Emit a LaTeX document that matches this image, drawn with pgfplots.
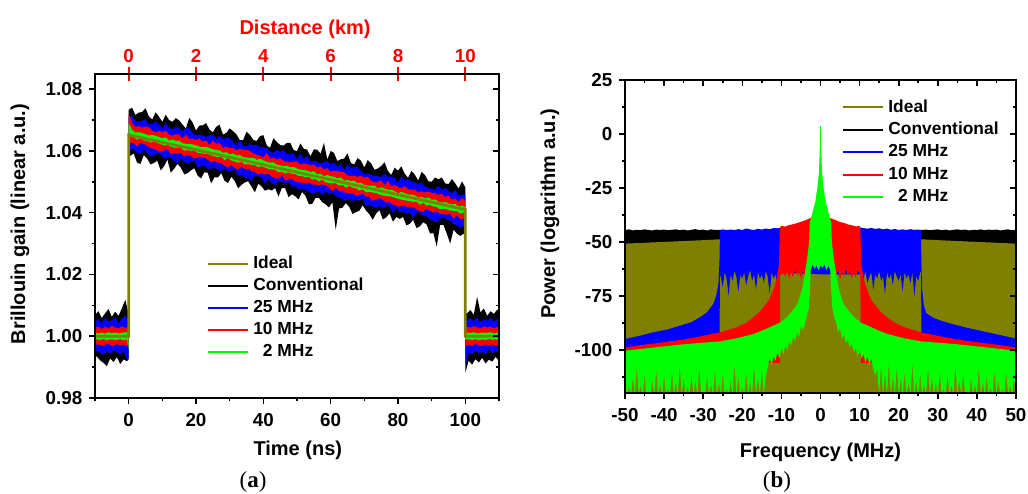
\documentclass[border=0pt]{standalone}
\usepackage{fontspec}
\setmainfont{Liberation Sans}
\newfontfamily\seriffont{Liberation Serif}
\usepackage{pgfplots}
\usepackage{pgfplotstable}
\pgfplotsset{compat=1.18}
\definecolor{olivec}{RGB}{128,128,0}
\definecolor{bluec}{RGB}{0,0,255}
\definecolor{redc}{RGB}{255,0,0}
\definecolor{greenc}{RGB}{0,255,0}

% envelope of each noisy trace (k = conventional, b = 25 MHz, r = 10 MHz, g = 2 MHz):
% upper edge left to right, then lower edge right to left
\pgfplotstableread{
x k b r g
-10 1.0068 1.0049 1.0027 1.0011
-9 1.0081 1.0055 1.0031 1.0009
-8 1.0059 1.0043 1.0024 1.0012
-7 1.0074 1.0058 1.0030 1.0008
-6 1.0088 1.0047 1.0026 1.0013
-5 1.0063 1.0052 1.0033 1.0010
-4 1.0079 1.0060 1.0028 1.0012
-3 1.0066 1.0041 1.0025 1.0009
-2 1.0091 1.0057 1.0032 1.0011
-1 1.0118 1.0066 1.0027 1.0013
0 1.0072 1.0050 1.0030 1.0011
0 1.0733 1.0710 1.0720 1.0690
1 1.0740 1.0713 1.0691 1.0668
2 1.0716 1.0697 1.0677 1.0659
3 1.0724 1.0694 1.0681 1.0661
4 1.0726 1.0698 1.0675 1.0658
5 1.0738 1.0702 1.0679 1.0654
6 1.0712 1.0685 1.0676 1.0650
7 1.0701 1.0688 1.0666 1.0652
8 1.0725 1.0695 1.0660 1.0649
9 1.0711 1.0686 1.0664 1.0645
10 1.0694 1.0672 1.0661 1.0641
11 1.0717 1.0691 1.0665 1.0644
12 1.0700 1.0675 1.0653 1.0633
13 1.0694 1.0670 1.0649 1.0637
14 1.0706 1.0677 1.0654 1.0632
15 1.0699 1.0673 1.0653 1.0633
16 1.0685 1.0663 1.0639 1.0625
17 1.0673 1.0674 1.0653 1.0623
18 1.0707 1.0673 1.0639 1.0623
19 1.0692 1.0659 1.0640 1.0621
20 1.0666 1.0650 1.0636 1.0618
21 1.0682 1.0653 1.0640 1.0614
22 1.0683 1.0650 1.0630 1.0612
23 1.0690 1.0645 1.0634 1.0613
24 1.0669 1.0650 1.0619 1.0609
25 1.0660 1.0653 1.0633 1.0605
26 1.0678 1.0638 1.0623 1.0603
27 1.0685 1.0649 1.0626 1.0601
28 1.0653 1.0638 1.0610 1.0594
29 1.0658 1.0642 1.0614 1.0596
30 1.0673 1.0643 1.0609 1.0588
31 1.0664 1.0629 1.0610 1.0592
32 1.0654 1.0617 1.0602 1.0585
33 1.0635 1.0636 1.0606 1.0587
34 1.0635 1.0617 1.0604 1.0580
35 1.0662 1.0614 1.0603 1.0578
36 1.0652 1.0622 1.0601 1.0577
37 1.0636 1.0618 1.0591 1.0578
38 1.0632 1.0620 1.0588 1.0571
39 1.0648 1.0611 1.0584 1.0574
40 1.0651 1.0612 1.0579 1.0569
41 1.0618 1.0608 1.0593 1.0565
42 1.0610 1.0597 1.0575 1.0562
43 1.0641 1.0594 1.0579 1.0563
44 1.0629 1.0605 1.0572 1.0555
45 1.0619 1.0596 1.0576 1.0553
46 1.0617 1.0603 1.0568 1.0550
47 1.0626 1.0589 1.0564 1.0552
48 1.0626 1.0590 1.0564 1.0547
49 1.0603 1.0593 1.0565 1.0548
50 1.0599 1.0572 1.0566 1.0543
51 1.0624 1.0591 1.0556 1.0539
52 1.0607 1.0573 1.0559 1.0538
53 1.0604 1.0584 1.0558 1.0536
54 1.0583 1.0565 1.0553 1.0531
55 1.0605 1.0568 1.0556 1.0534
56 1.0604 1.0565 1.0546 1.0524
57 1.0591 1.0560 1.0550 1.0526
58 1.0626 1.0563 1.0540 1.0518
59 1.0572 1.0567 1.0544 1.0522
60 1.0600 1.0558 1.0532 1.0518
61 1.0593 1.0562 1.0536 1.0516
62 1.0567 1.0548 1.0534 1.0511
63 1.0573 1.0559 1.0533 1.0514
64 1.0575 1.0537 1.0531 1.0504
65 1.0592 1.0556 1.0521 1.0506
66 1.0561 1.0545 1.0519 1.0502
67 1.0556 1.0548 1.0520 1.0503
68 1.0577 1.0548 1.0516 1.0495
69 1.0568 1.0534 1.0520 1.0497
70 1.0546 1.0525 1.0513 1.0490
71 1.0570 1.0528 1.0516 1.0488
72 1.0560 1.0522 1.0503 1.0487
73 1.0539 1.0519 1.0499 1.0488
74 1.0543 1.0520 1.0500 1.0478
75 1.0551 1.0515 1.0504 1.0482
76 1.0563 1.0525 1.0489 1.0478
77 1.0535 1.0516 1.0503 1.0474
78 1.0522 1.0517 1.0485 1.0474
79 1.0546 1.0513 1.0489 1.0470
80 1.0536 1.0497 1.0483 1.0463
81 1.0550 1.0516 1.0479 1.0467
82 1.0526 1.0505 1.0486 1.0463
83 1.0513 1.0508 1.0476 1.0459
84 1.0535 1.0502 1.0474 1.0458
85 1.0523 1.0498 1.0475 1.0456
86 1.0504 1.0493 1.0465 1.0449
87 1.0532 1.0497 1.0469 1.0451
88 1.0522 1.0485 1.0465 1.0446
89 1.0502 1.0480 1.0469 1.0449
90 1.0500 1.0477 1.0464 1.0442
91 1.0514 1.0474 1.0463 1.0443
92 1.0508 1.0488 1.0458 1.0435
93 1.0514 1.0474 1.0461 1.0433
94 1.0495 1.0480 1.0451 1.0434
95 1.0492 1.0471 1.0455 1.0430
96 1.0509 1.0463 1.0442 1.0427
97 1.0495 1.0474 1.0446 1.0428
98 1.0478 1.0455 1.0434 1.0420
99 1.0501 1.0458 1.0448 1.0422
100 1.0482 1.0460 1.0437 1.0418
100 1.0074 1.0052 1.0031 1.0012
100.5 1.0074 1.0052 1.0031 1.0012
101.5 1.0085 1.0058 1.0027 1.0010
102.5 1.0069 1.0049 1.0033 1.0013
103.5 1.0128 1.0061 1.0029 1.0009
104.5 1.0077 1.0045 1.0025 1.0011
105.5 1.0090 1.0055 1.0032 1.0012
106.5 1.0066 1.0050 1.0028 1.0010
107.5 1.0081 1.0059 1.0031 1.0013
108.5 1.0072 1.0048 1.0026 1.0009
109.5 1.0087 1.0056 1.0030 1.0011
110 1.0070 1.0050 1.0027 1.0010
110 0.9920 0.9947 0.9972 0.9988
109 0.9933 0.9951 0.9969 0.9990
108 0.9918 0.9945 0.9973 0.9989
107 0.9924 0.9956 0.9970 0.9991
106 0.9912 0.9942 0.9974 0.9988
105 0.9930 0.9950 0.9968 0.9990
104 0.9915 0.9944 0.9971 0.9987
103 0.9926 0.9953 0.9975 0.9991
102 0.9908 0.9941 0.9969 0.9988
101 0.9921 0.9947 0.9972 0.9990
100 0.9882 0.9905 0.9968 0.9989
100 1.0330 1.0355 1.0380 1.0400
99.5 1.0332 1.0356 1.0381 1.0401
98.5 1.0325 1.0351 1.0378 1.0397
97.5 1.0332 1.0359 1.0391 1.0405
96.5 1.0345 1.0364 1.0380 1.0406
95.5 1.0300 1.0374 1.0397 1.0407
94.5 1.0332 1.0377 1.0393 1.0411
93.5 1.0361 1.0384 1.0395 1.0413
92.5 1.0360 1.0380 1.0397 1.0411
91.5 1.0290 1.0370 1.0403 1.0419
90.5 1.0334 1.0374 1.0400 1.0420
89.5 1.0333 1.0377 1.0406 1.0425
88.5 1.0362 1.0388 1.0413 1.0423
87.5 1.0369 1.0390 1.0403 1.0432
86.5 1.0356 1.0399 1.0406 1.0426
85.5 1.0350 1.0401 1.0410 1.0436
84.5 1.0377 1.0383 1.0419 1.0435
83.5 1.0364 1.0401 1.0417 1.0438
82.5 1.0359 1.0398 1.0419 1.0439
81.5 1.0386 1.0403 1.0423 1.0441
80.5 1.0380 1.0400 1.0419 1.0444
79.5 1.0386 1.0416 1.0423 1.0447
78.5 1.0371 1.0398 1.0426 1.0451
77.5 1.0398 1.0419 1.0436 1.0453
76.5 1.0385 1.0422 1.0433 1.0454
75.5 1.0378 1.0412 1.0441 1.0456
74.5 1.0408 1.0423 1.0448 1.0459
73.5 1.0397 1.0415 1.0443 1.0464
72.5 1.0377 1.0419 1.0439 1.0465
71.5 1.0395 1.0426 1.0450 1.0468
70.5 1.0407 1.0421 1.0452 1.0466
69.5 1.0424 1.0444 1.0462 1.0476
68.5 1.0406 1.0440 1.0458 1.0472
67.5 1.0402 1.0441 1.0455 1.0480
66.5 1.0396 1.0438 1.0464 1.0481
65.5 1.0419 1.0443 1.0462 1.0487
64.5 1.0431 1.0440 1.0464 1.0481
63.5 1.0416 1.0444 1.0473 1.0490
62.5 1.0414 1.0449 1.0470 1.0488
61.5 1.0345 1.0455 1.0481 1.0496
60.5 1.0434 1.0464 1.0470 1.0495
59.5 1.0417 1.0460 1.0481 1.0496
58.5 1.0427 1.0469 1.0488 1.0499
57.5 1.0434 1.0457 1.0492 1.0507
56.5 1.0448 1.0468 1.0488 1.0501
55.5 1.0448 1.0466 1.0490 1.0510
54.5 1.0428 1.0461 1.0492 1.0508
53.5 1.0428 1.0469 1.0498 1.0516
52.5 1.0455 1.0474 1.0495 1.0515
51.5 1.0467 1.0478 1.0497 1.0518
50.5 1.0443 1.0475 1.0499 1.0519
49.5 1.0453 1.0486 1.0500 1.0525
48.5 1.0460 1.0483 1.0509 1.0526
47.5 1.0450 1.0499 1.0508 1.0531
46.5 1.0479 1.0495 1.0504 1.0527
45.5 1.0480 1.0499 1.0521 1.0533
44.5 1.0452 1.0502 1.0510 1.0531
43.5 1.0480 1.0490 1.0513 1.0539
42.5 1.0472 1.0494 1.0516 1.0540
41.5 1.0476 1.0511 1.0526 1.0542
40.5 1.0471 1.0493 1.0523 1.0546
39.5 1.0485 1.0514 1.0528 1.0550
38.5 1.0494 1.0517 1.0524 1.0548
37.5 1.0466 1.0521 1.0532 1.0554
36.5 1.0484 1.0503 1.0534 1.0555
35.5 1.0502 1.0510 1.0543 1.0558
34.5 1.0498 1.0514 1.0540 1.0556
33.5 1.0490 1.0523 1.0551 1.0566
32.5 1.0479 1.0520 1.0540 1.0562
31.5 1.0503 1.0539 1.0545 1.0566
30.5 1.0516 1.0535 1.0554 1.0569
29.5 1.0496 1.0535 1.0548 1.0577
28.5 1.0503 1.0544 1.0551 1.0571
27.5 1.0528 1.0534 1.0560 1.0581
26.5 1.0514 1.0539 1.0562 1.0580
25.5 1.0515 1.0546 1.0566 1.0582
24.5 1.0495 1.0543 1.0563 1.0586
23.5 1.0529 1.0542 1.0571 1.0590
22.5 1.0531 1.0553 1.0578 1.0591
21.5 1.0511 1.0551 1.0582 1.0593
20.5 1.0520 1.0546 1.0578 1.0594
19.5 1.0544 1.0569 1.0575 1.0601
18.5 1.0537 1.0565 1.0584 1.0600
17.5 1.0528 1.0559 1.0586 1.0603
16.5 1.0524 1.0564 1.0583 1.0601
15.5 1.0546 1.0576 1.0593 1.0610
14.5 1.0558 1.0558 1.0590 1.0611
13.5 1.0542 1.0567 1.0593 1.0611
12.5 1.0530 1.0578 1.0589 1.0614
11.5 1.0572 1.0578 1.0607 1.0620
10.5 1.0550 1.0575 1.0603 1.0618
9.5 1.0537 1.0589 1.0598 1.0622
8.5 1.0568 1.0592 1.0601 1.0626
7.5 1.0561 1.0586 1.0607 1.0631
6.5 1.0556 1.0581 1.0609 1.0627
5.5 1.0575 1.0595 1.0616 1.0633
4.5 1.0586 1.0604 1.0623 1.0634
3.5 1.0558 1.0590 1.0626 1.0642
2.5 1.0562 1.0594 1.0615 1.0636
1.5 1.0592 1.0606 1.0625 1.0644
0.5 1.0584 1.0603 1.0627 1.0645
0 1.0590 1.0605 1.0630 1.0648
0 0.9925 0.9930 0.9965 0.9955
-0.5 0.9919 0.9924 0.9969 0.9990
-1.5 0.9925 0.9950 0.9973 0.9987
-2.5 0.9910 0.9942 0.9970 0.9991
-3.5 0.9932 0.9948 0.9975 0.9988
-4.5 0.9917 0.9955 0.9968 0.9989
-5.5 0.9928 0.9943 0.9972 0.9990
-6.5 0.9903 0.9951 0.9976 0.9987
-7.5 0.9914 0.9940 0.9969 0.9991
-8.5 0.9922 0.9946 0.9971 0.9988
-9.5 0.9935 0.9952 0.9974 0.9990
-10 0.9930 0.9950 0.9972 0.9990
}\tracepoly

\pgfplotsset{
  base/.style={
    scale only axis, anchor=south west,
    axis line style={line width=0.9pt},
    every tick/.style={line width=0.8pt, black},
    major tick length=2.8pt, minor tick length=1.7pt,
    tick label style={font=\fontsize{9.4}{10}\selectfont\bfseries},
    label style={font=\fontsize{10}{12}\selectfont\bfseries},
    legend image code/.code={\draw[##1] (0pt,0pt) -- (20pt,0pt);},
  },
}

\begin{document}
\begin{tikzpicture}
\useasboundingbox (0,0) rectangle (514pt,246.5pt);
% ---------------- (a) ----------------
\begin{axis}[base,
  at={(47.5pt,47.5pt)}, width=202pt, height=162pt,
  xmin=-10, xmax=110, ymin=0.98, ymax=1.0849,
  tick pos=left, tick align=outside,
  xtick={0,20,40,60,80,100}, xticklabels={0,20,40,60,80,100},
  minor xtick={-10,10,30,50,70,90,110},
  ytick={0.98,1.00,1.02,1.04,1.06,1.08},
  yticklabels={0.98,1.00,1.02,1.04,1.06,1.08},
  minor ytick={0.99,1.01,1.03,1.05,1.07},
  xticklabel style={yshift=-1.5pt},
  xlabel={Time (ns)}, ylabel={Brillouin gain (linear a.u.)},
  xlabel style={at={(axis description cs:0.502,-0.163)}, anchor=center},
  ylabel style={at={(axis description cs:-0.1856,0.537)}, anchor=center},
  legend style={draw=none, fill=none, at={(0.277,0.452)}, anchor=north west,
    inner sep=0pt, row sep=-0.65pt, font=\fontsize{8.7}{10}\selectfont\bfseries,
    legend cell align=left},
]
\addlegendimage{line width=1pt, olivec}
\addlegendentry{Ideal}
\addlegendimage{line width=1pt, black}
\addlegendentry{Conventional}
\addlegendimage{line width=1pt, bluec}
\addlegendentry{25 MHz}
\addlegendimage{line width=1pt, redc}
\addlegendentry{10 MHz}
\addlegendimage{line width=1pt, greenc}
\addlegendentry{\hphantom{0}2 MHz}
\addplot[forget plot, fill=black, draw=none] table[x=x, y=k] {\tracepoly};
\addplot[forget plot, fill=bluec, draw=none] table[x=x, y=b] {\tracepoly};
\addplot[forget plot, fill=redc, draw=none] table[x=x, y=r] {\tracepoly};
\addplot[forget plot, fill=greenc, draw=none] table[x=x, y=g] {\tracepoly};
\addplot[forget plot, olivec, line width=1.4pt] coordinates {(-10,1.000) (0,1.000) (0,1.0652) (100,1.0410) (100,1.000) (110,1.000)};
\end{axis}
% mirror ticks (top minor, right) of (a)
\begin{axis}[base,
  at={(47.5pt,47.5pt)}, width=202pt, height=162pt,
  xmin=-10, xmax=110, ymin=0.98, ymax=1.0849,
  tick pos=right, tick align=inside,
  xtick=\empty, minor xtick={-10,10,30,50,70,90,110},
  ytick={0.98,1.00,1.02,1.04,1.06,1.08}, yticklabels={},
  minor ytick={0.99,1.01,1.03,1.05,1.07},
]
\end{axis}
% distance axis (top, red) of (a)
\begin{axis}[base,
  at={(47.5pt,47.5pt)}, width=202pt, height=162pt,
  xmin=-1, xmax=11, ymin=0.98, ymax=1.0849,
  hide y axis,
  tick pos=right, tick align=center, major tick length=6.7pt,
  xtick={0,2,4,6,8,10}, xticklabels={0,2,4,6,8,10},
  major x tick style={redc, line width=0.9pt},
  xticklabel style={text=redc, yshift=-1pt},
  xlabel={Distance (km)},
  xlabel style={text=redc, at={(axis description cs:0.52,1.138)}, anchor=center},
]
\end{axis}
% ---------------- (b) ----------------
\begin{axis}[base,
  at={(312.5pt,50pt)}, width=195.5pt, height=156.5pt,
  xmin=-50, xmax=50, ymin=-120, ymax=25,
  tick pos=left, tick align=outside,
  xtick={-50,-40,-30,-20,-10,0,10,20,30,40,50},
  xticklabels={-50,-40,-30,-20,-10,0,10,20,30,40,50},
  minor xtick={-45,-35,-25,-15,-5,5,15,25,35,45},
  ytick={-100,-75,-50,-25,0,25}, yticklabels={-100,-75,-50,-25,0,25},
  minor ytick={-112.5,-87.5,-62.5,-37.5,-12.5,12.5},
  xticklabel style={yshift=-1.5pt},
  xlabel={Frequency (MHz)}, ylabel={Power (logarithm a.u.)},
  xlabel style={at={(axis description cs:0.5,-0.1885)}, anchor=center},
  ylabel style={at={(axis description cs:-0.1918,0.573)}, anchor=center},
  legend style={draw=none, fill=none, at={(0.555,0.952)}, anchor=north west,
    inner sep=0pt, row sep=-0.45pt, font=\fontsize{8.7}{10}\selectfont\bfseries,
    legend cell align=left},
]
\addlegendimage{line width=1pt, olivec}
\addlegendentry{Ideal}
\addlegendimage{line width=1pt, black}
\addlegendentry{Conventional}
\addlegendimage{line width=1pt, bluec}
\addlegendentry{25 MHz}
\addlegendimage{line width=1pt, redc}
\addlegendentry{10 MHz}
\addlegendimage{line width=1pt, greenc}
\addlegendentry{\hphantom{0}2 MHz}
% Conventional
\addplot[forget plot, fill=black, draw=none] coordinates {
(-50,-121) (-50,-44.5) (-49,-44.2) (-48,-44.7) (-47,-44.4) (-46,-44.6) (-45,-44.2)
(-44,-44.5) (-43,-44.7) (-42,-44.3) (-41,-44.5) (-40,-44.3) (-39,-44.6) (-38,-44.4)
(-37,-44.2) (-36,-44.6) (-35,-44.3) (-34,-44.7) (-33,-44.4) (-32,-44.1) (-31,-44.5)
(-30,-44.3) (-29,-44.7) (-28,-44.2) (-27,-44.5) (-26,-44.4) (-20,-44.5) (-10,-44.5)
(0,-44.5) (10,-44.5) (20,-44.5) (25,-44.4) (26,-44.5) (27,-44.3) (28,-44.6) (29,-44.4)
(30,-44.2) (31,-44.6) (32,-44.3) (33,-44.7) (34,-44.4) (35,-44.2) (36,-44.5) (37,-44.3)
(38,-44.7) (39,-44.4) (40,-44.5) (41,-44.2) (42,-44.6) (43,-44.3) (44,-44.5) (45,-44.3)
(46,-44.7) (47,-44.4) (48,-44.2) (49,-44.6) (50,-44.4) (50,-121)};
% Ideal
\addplot[forget plot, fill=olivec, draw=none] coordinates {
(-50,-121) (-50,-50.8) (-45,-50.4) (-40,-50.0) (-35,-49.6) (-30,-49.2) (-26,-48.8)
(-20,-48.5) (0,-48) (20,-48.5) (26,-48.8) (30,-49.2) (35,-49.6) (40,-50.0) (45,-50.4)
(50,-50.8) (50,-121)};
% 25 MHz
\addplot[forget plot, fill=bluec, draw=none] coordinates {
(-50,-95.0) (-46,-93.4) (-42.8,-91.9) (-39,-90.5) (-35.9,-88.8) (-33,-87.2) (-30.8,-84.9)
(-29,-82.6) (-27.4,-78.7) (-26.6,-74.5) (-26.1,-69.3) (-25.85,-60) (-25.7,-44.6)
(-25,-44.2) (-24,-44.7) (-23,-44.3) (-22,-44.6) (-21,-44.1) (-20,-44.5) (-19,-43.8)
(-18,-44.2) (-17,-44.5) (-16,-43.9) (-15,-44.3) (-14,-43.8) (-13,-44.1) (-12,-43.6)
(-11,-43.7) (-10,-43.3) (0,-42) (10,-43.3) (11,-43.6) (12,-43.9) (13,-43.5) (14,-44.0)
(15,-43.7) (16,-44.2) (17,-43.8) (18,-44.4) (19,-44.0) (20,-44.5) (21,-44.2) (22,-44.6)
(23,-44.1) (24,-44.5) (25,-44.3) (25.7,-44.6) (25.8,-60) (26.0,-72) (26.4,-79) (27,-83)
(29,-85.3) (31,-86.6) (34,-88.2) (37,-89.6) (40,-90.8) (43,-92) (46,-93.2) (50,-94.8)
(50,-105) (25.8,-105) (25.75,-64) (25.5,-64) (25,-68) (24.5,-66) (24,-75) (23.5,-64)
(23,-69) (22.5,-65) (22,-67) (21.5,-64) (21,-73) (20.5,-65) (20,-68) (19.5,-66)
(19,-63.5) (18.5,-70) (18,-65) (17.5,-67) (17,-64) (16.5,-74) (16,-66) (15.5,-68)
(15,-63.5) (14.5,-67) (14,-65) (13.5,-72) (13,-64) (12.5,-66) (12,-69) (11.5,-63.5)
(11,-67) (10.5,-65) (0,-65) (-10.5,-64) (-11,-70) (-11.5,-65) (-12,-67) (-12.5,-64)
(-13,-74) (-13.5,-66) (-14,-63.5) (-14.5,-69) (-15,-65) (-15.5,-67) (-16,-64)
(-16.5,-72) (-17,-65) (-17.5,-68) (-18,-63) (-18.5,-66) (-19,-70) (-19.5,-64) (-20,-67)
(-20.5,-65) (-21,-73) (-21.5,-66) (-22,-63.5) (-22.5,-68) (-23,-65) (-23.5,-75)
(-24,-67) (-24.5,-64) (-25,-71) (-25.5,-66) (-25.75,-66) (-25.8,-105) (-50,-105)};
% 10 MHz
\addplot[forget plot, fill=redc, draw=none] coordinates {
(-50,-98.9) (-45,-97.6) (-40,-96.5) (-34.2,-95.0) (-30,-93.5) (-25.7,-91.9) (-21.4,-89.5)
(-19,-87.5) (-17.2,-84.9) (-15.8,-82.8) (-14.6,-80.2) (-13.2,-77) (-12.1,-72.4)
(-11.2,-67) (-10.6,-60) (-10.4,-43.5) (-10,-42.6) (-9,-42.9) (-8,-42.2) (-7,-41.8)
(-6,-41.3) (-5,-40.7) (-4,-40.1) (-3,-39.3) (-2,-38.6) (0,-38) (2,-38.6) (3,-39.3)
(4,-40.0) (5,-40.8) (6,-41.2) (7,-41.9) (8,-42.3) (9,-42.8) (10,-42.7) (10.2,-43.5)
(10.4,-60) (11,-67) (12,-72.4) (13,-77) (14.4,-80.2) (15.6,-82.8) (17,-84.9) (19,-87.5)
(21.4,-89.5) (25.7,-91.9) (30,-93.5) (34.2,-95.0) (40,-96.5) (45,-97.6) (50,-98.9)
(50,-106) (10.3,-106) (10.2,-65) (9.5,-63) (9,-66.5) (8.5,-64) (8,-67) (7.5,-63.5)
(7,-65.5) (6.5,-62.5) (6,-66) (5.5,-64) (5,-67.5) (4.5,-63) (4,-65) (3.5,-64) (3,-60)
(0,-58) (-3,-60) (-3.5,-64.5) (-4,-66) (-4.5,-63.5) (-5,-67) (-5.5,-64) (-6,-65.5)
(-6.5,-63) (-7,-66.5) (-7.5,-64) (-8,-67) (-8.5,-63.5) (-9,-66) (-9.5,-64.5)
(-10.3,-65.5) (-10.4,-106) (-50,-106)};
% 2 MHz
\addplot[forget plot, fill=greenc, draw=none] coordinates {
(-50,-100.4) (-45,-99.4) (-40,-98.4) (-34.2,-97.3) (-30,-96.7) (-25.7,-96.1) (-21,-94.5)
(-17.2,-92.7) (-14.5,-90.8) (-12.1,-88.8) (-10.4,-87.5) (-8.6,-84.9) (-7,-81.5) (-6,-79)
(-5.3,-75.6) (-4.6,-71) (-4.0,-64.7) (-3.4,-57.5) (-2.9,-50) (-2.75,-41) (-2.2,-37.5)
(-1.3,-31.2) (-0.8,-25) (-0.4,-18) (-0.2,-8) (-0.1,3.7) (0.1,3.7) (0.2,-8) (0.4,-18)
(0.8,-25) (1.3,-31.2) (2.2,-37.5) (2.75,-41) (2.9,-50) (3.4,-57.5) (4.0,-64.7) (4.6,-71)
(5.3,-75.6) (6,-79) (7,-81.5) (8.6,-84.9) (10.4,-87.5) (12.1,-88.8) (14.5,-90.8)
(17.2,-92.7) (21,-94.5) (25.7,-96.1) (30,-96.7) (34.2,-97.3) (40,-98.4) (45,-99.4)
(50,-100.4)
(50,-121) (49.5,-113) (49,-121) (48.5,-116) (48,-121) (47.5,-110) (47,-121) (46.5,-118)
(46,-121) (45.5,-114) (45,-121) (44.5,-109) (44,-121) (43.5,-117) (43,-121) (42.5,-112)
(42,-121) (41.5,-115) (41,-121) (40.5,-108) (40,-121) (39.5,-116) (39,-121) (38.5,-113)
(38,-121) (37.5,-119) (37,-121) (36.5,-111) (36,-121) (35.5,-114) (35,-121) (34.5,-107)
(34,-121) (33.5,-116) (33,-121) (32.5,-112) (32,-121) (31.5,-118) (31,-121) (30.5,-110)
(30,-121) (29.5,-115) (29,-121) (28.5,-113) (28,-121) (27.5,-108) (27,-121) (26.5,-116)
(26,-121) (25.5,-111) (25,-121) (24.5,-114) (24,-121) (23.5,-106) (23,-121) (22.5,-115)
(22,-121) (21.5,-110) (21,-121) (20.5,-113) (20,-121) (19.5,-108) (19,-121) (18.5,-112)
(18,-121) (17.5,-106) (17,-121) (16.5,-111) (16,-121) (15.5,-107) (15,-121) (14.5,-109)
(14,-112) (13.5,-109) (13,-104) (12.5,-107) (12,-103) (11.5,-106) (11,-102) (10.5,-104)
(10,-100) (9.5,-103) (9,-99) (8.5,-101) (8,-97) (7.5,-99) (7,-95) (6.5,-97) (6,-93)
(5.5,-95) (5,-90) (4.5,-92) (4,-87) (3.5,-85) (3,-80) (2.7,-72) (2.5,-63) (2,-61)
(1.5,-63) (1,-60.5) (0.5,-62) (0,-61) (-0.5,-63) (-1,-61) (-1.5,-62.5) (-2,-60.5)
(-2.5,-63) (-2.7,-73) (-3,-81) (-3.5,-84) (-4,-88) (-4.5,-91) (-5,-89) (-5.5,-94) (-6,-92)
(-6.5,-96) (-7,-94) (-7.5,-98) (-8,-96) (-8.5,-100) (-9,-98) (-9.5,-102) (-10,-99)
(-10.5,-104) (-11,-101) (-11.5,-105) (-12,-103) (-12.5,-107) (-13,-104) (-13.5,-108)
(-14,-112) (-14.5,-121) (-15,-109) (-15.5,-121) (-16,-113) (-16.5,-121) (-17,-107)
(-17.5,-121) (-18,-115) (-18.5,-121) (-19,-110) (-19.5,-121) (-20,-117) (-20.5,-121)
(-21,-112) (-21.5,-121) (-22,-106) (-22.5,-121) (-23,-114) (-23.5,-121) (-24,-118)
(-24.5,-121) (-25,-111) (-25.5,-121) (-26,-115) (-26.5,-121) (-27,-109) (-27.5,-121)
(-28,-116) (-28.5,-121) (-29,-112) (-29.5,-121) (-30,-119) (-30.5,-121) (-31,-108)
(-31.5,-121) (-32,-114) (-32.5,-121) (-33,-111) (-33.5,-121) (-34,-117) (-34.5,-121)
(-35,-113) (-35.5,-121) (-36,-107) (-36.5,-121) (-37,-115) (-37.5,-121) (-38,-110)
(-38.5,-121) (-39,-118) (-39.5,-121) (-40,-112) (-40.5,-121) (-41,-116) (-41.5,-121)
(-42,-109) (-42.5,-121) (-43,-114) (-43.5,-121) (-44,-119) (-44.5,-121) (-45,-111)
(-45.5,-121) (-46,-116) (-46.5,-121) (-47,-108) (-47.5,-121) (-48,-113) (-48.5,-121)
(-49,-117) (-49.5,-121) (-50,-114)};
\end{axis}
\begin{axis}[base,
  at={(312.5pt,50pt)}, width=195.5pt, height=156.5pt,
  xmin=-50, xmax=50, ymin=-120, ymax=25,
  tick pos=right, tick align=inside,
  xtick={-50,-40,-30,-20,-10,0,10,20,30,40,50}, xticklabels={},
  minor xtick={-45,-35,-25,-15,-5,5,15,25,35,45},
  ytick={-100,-75,-50,-25,0,25}, yticklabels={},
  minor ytick={-112.5,-87.5,-62.5,-37.5,-12.5,12.5},
]
\end{axis}
\node[font=\seriffont\fontsize{11.5}{13}\selectfont] at (126.5pt,5.5pt) {(\textbf{a})};
\node[font=\seriffont\fontsize{11.5}{13}\selectfont] at (388.5pt,5.5pt) {(\textbf{b})};
\end{tikzpicture}
\end{document}
